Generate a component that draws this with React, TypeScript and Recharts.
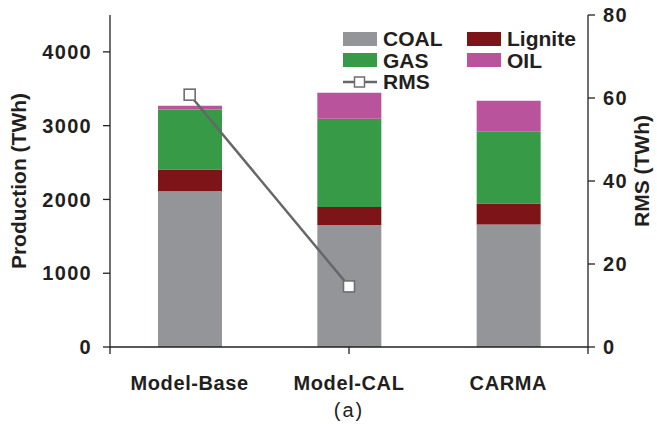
import { ComposedChart, Bar, Line, XAxis, YAxis } from "recharts";

const categories = ["Model-Base", "Model-CAL", "CARMA"];
const coal = [2110, 1655, 1662];
const lignite = [295, 243, 284];
const gas = [815, 1197, 973];
const oil = [50, 351, 419];
const rms: (number | null)[] = [60.8, 14.6, null];
const leftTicks = [0, 1000, 2000, 3000, 4000];
const rightTicks = [0, 20, 40, 60, 80];
const boundaryTicks = [0, 1, 2, 3];

const data = categories.map((name, i) => ({
  name,
  coal: coal[i],
  lignite: lignite[i],
  gas: gas[i],
  oil: oil[i],
  rms: rms[i],
}));

const FONT = "'Liberation Sans', Arial, sans-serif";
const INK = "#231f20";
const tickStyle = { fill: INK, fontSize: 20, fontWeight: 700, fontFamily: FONT, letterSpacing: 0.6 };
const numTickStyle = { ...tickStyle, letterSpacing: 1.3 };

const colors = { coal: "#939598", lignite: "#7d1518", gas: "#369a47", oil: "#b9539c", rms: "#666769" };

const SquareDot = (props: any) => {
  const { cx, cy } = props;
  if (cx == null || cy == null) return <g />;
  return <rect x={cx - 5.5} y={cy - 5.5} width={11} height={11} fill="#fff" stroke="#6d6e70" strokeWidth={1.6} />;
};

// legend drawn as an overlay so it doesn't eat plot space
const LegendBox = () => {
  const text = { fontFamily: FONT, fontWeight: 700, fontSize: 21, color: INK, lineHeight: "21px" };
  const swatch = (c: string) => (
    <span style={{ display: "inline-block", width: 34, height: 14, background: c, marginRight: 6 }} />
  );
  const item = (label: string, c: string) => (
    <div style={{ display: "flex", alignItems: "center", height: 21.5, ...text }}>
      {swatch(c)}
      {label}
    </div>
  );
  return (
    <div style={{ position: "absolute", left: 343, top: 28, display: "grid", gridTemplateColumns: "124px 120px" }}>
      {item("COAL", colors.coal)}
      {item("Lignite", colors.lignite)}
      {item("GAS", colors.gas)}
      {item("OIL", colors.oil)}
      <div style={{ display: "flex", alignItems: "center", height: 21.5, ...text }}>
        <svg width={34} height={14} style={{ marginRight: 6 }}>
          <line x1={0} y1={7} x2={34} y2={7} stroke={colors.rms} strokeWidth={2.5} />
          <rect x={11.5} y={2} width={10} height={10} fill="#fff" stroke="#6d6e70" strokeWidth={1.5} />
        </svg>
        RMS
      </div>
    </div>
  );
};

const leftTitle = (props: any) => {
  const { x, y, height } = props.viewBox;
  const cx = x + 18;
  const cy = y + height / 2;
  return (
    <text x={cx} y={cy} transform={`rotate(-90 ${cx} ${cy})`} textAnchor="middle" dominantBaseline="central"
      fill={INK} fontSize={21} fontWeight={700} fontFamily={FONT}>
      Production (TWh)
    </text>
  );
};

const rightTitle = (props: any) => {
  const { x, y, height } = props.viewBox;
  const cx = x + 53;
  const cy = y + height / 2 - 10;
  return (
    <text x={cx} y={cy} transform={`rotate(-90 ${cx} ${cy})`} textAnchor="middle" dominantBaseline="central"
      fill={INK} fontSize={21} fontWeight={700} fontFamily={FONT}>
      RMS (TWh)
    </text>
  );
};

export default function App() {
  return (
    <div style={{ position: "absolute", left: 0, top: 0, width: 657, height: 439, background: "#fff" }}>
      <ComposedChart width={657} height={439} data={data} margin={{ top: 15, right: 0, bottom: 0, left: 0 }}>
        <XAxis xAxisId="b" type="number" domain={[0, 3]} ticks={boundaryTicks} tickFormatter={() => ""}
          height={8} tickSize={7} stroke={INK} strokeWidth={1.3} allowDataOverflow />
        <XAxis xAxisId="cat" dataKey="name" height={84} axisLine={false} tickLine={false} tickMargin={15}
          tick={tickStyle}
          label={{ value: "(a)", position: "insideBottom", offset: 22, fill: INK, fontSize: 20, fontFamily: FONT, letterSpacing: 2 }} />
        <YAxis yAxisId="l" domain={[0, 4500]} ticks={leftTicks} width={110} tickSize={7} tickMargin={11}
          stroke={INK} strokeWidth={1.3} tick={numTickStyle} label={{ content: leftTitle }} />
        <YAxis yAxisId="r" orientation="right" domain={[0, 80]} ticks={rightTicks} width={69} tickSize={7}
          tickMargin={8} stroke={INK} strokeWidth={1.3} tick={{ ...numTickStyle, textAnchor: "start" }}
          label={{ content: rightTitle }} />
        <Bar xAxisId="cat" yAxisId="l" dataKey="coal" name="COAL" stackId="s" fill={colors.coal} barSize={64} isAnimationActive={false} />
        <Bar xAxisId="cat" yAxisId="l" dataKey="lignite" name="Lignite" stackId="s" fill={colors.lignite} barSize={64} isAnimationActive={false} />
        <Bar xAxisId="cat" yAxisId="l" dataKey="gas" name="GAS" stackId="s" fill={colors.gas} barSize={64} isAnimationActive={false} />
        <Bar xAxisId="cat" yAxisId="l" dataKey="oil" name="OIL" stackId="s" fill={colors.oil} barSize={64} isAnimationActive={false} />
        <Line xAxisId="cat" yAxisId="r" dataKey="rms" name="RMS" stroke={colors.rms} strokeWidth={2.5}
          dot={<SquareDot />} activeDot={false} isAnimationActive={false} />
      </ComposedChart>
      <LegendBox />
    </div>
  );
}
